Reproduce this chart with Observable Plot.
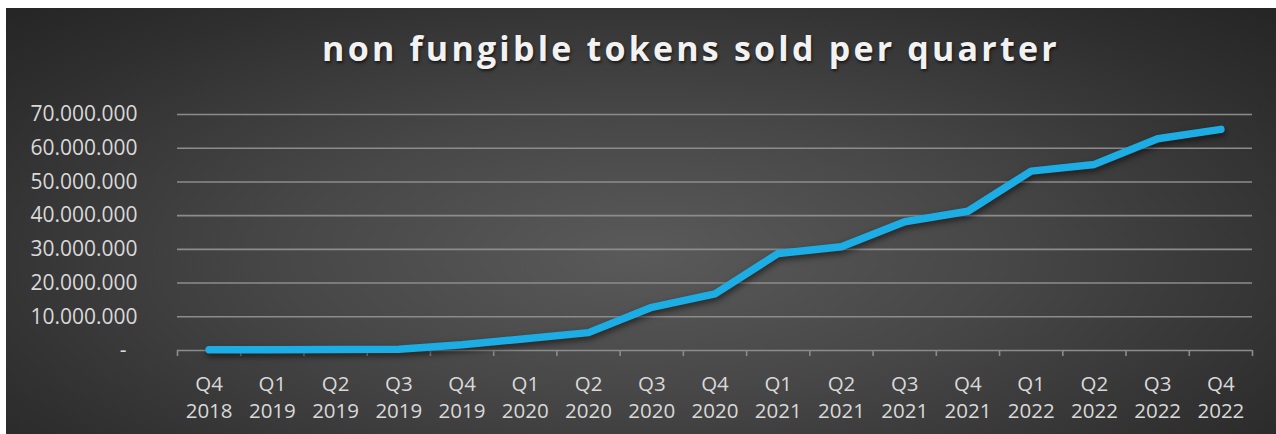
<!DOCTYPE html>
<html>
<head>
<meta charset="utf-8">
<script src="https://cdn.jsdelivr.net/npm/d3@7"></script>
<script src="https://cdn.jsdelivr.net/npm/@observablehq/plot@0.6"></script>
<style>
  html, body { margin: 0; padding: 0; background: #ffffff; width: 1276px; height: 434px; overflow: hidden; }
  #frame {
    position: absolute; left: 6px; top: 8px; width: 1270px; height: 426px;
    background: radial-gradient(ellipse farthest-corner at 50% 58%, #5a5a5a 0%, #474747 40%, #2f2f2f 80%, #252525 100%);
    overflow: hidden;
  }
  #title {
    position: absolute; left: 685px; top: 17px; transform: translateX(-50%);
    white-space: nowrap; font-family: "Open Sans", sans-serif; font-weight: 700;
    font-size: 34px; letter-spacing: 3.2px; color: #f2f2f2;
    text-shadow: 1px 2px 3px rgba(0,0,0,0.6);
  }
  #chart { position: absolute; left: 0; top: 90px; }
</style>
</head>
<body>
<div id="frame">
  <div id="title">non fungible tokens sold per quarter</div>
  <div id="chart"></div>
</div>
<script>
const quarters = ["Q4","Q1","Q2","Q3","Q4","Q1","Q2","Q3","Q4","Q1","Q2","Q3","Q4","Q1","Q2","Q3","Q4"];
const years = ["2018","2019","2019","2019","2019","2020","2020","2020","2020","2021","2021","2021","2021","2022","2022","2022","2022"];
const tokensSold = [200000, 250000, 300000, 400000, 1700000, 3500000, 5300000, 12800000, 16800000, 28800000, 30800000, 38200000, 41300000, 53200000, 55200000, 62800000, 65600000];
const yTicks = [0, 10000000, 20000000, 30000000, 40000000, 50000000, 60000000, 70000000];

const data = tokensSold.map((v, i) => ({pos: i + 0.5, quarter: quarters[i], year: years[i], value: v}));
const boundaries = d3.range(0, quarters.length + 1);
const centers = d3.range(quarters.length).map(i => i + 0.5);

const fmt = v => v === 0 ? "-\u00a0\u00a0" : d3.format(",")(v).replace(/,/g, ".");
const gray = "#8c8c8c";

const plot = Plot.plot({
  width: 1270,
  height: 336,
  marginLeft: 171,
  marginRight: 24,
  marginTop: 16,
  marginBottom: 84,
  style: {background: "transparent", color: "#d9d9d9", fontFamily: "'Open Sans', sans-serif", fontSize: "20px", overflow: "visible"},
  x: {type: "linear", domain: [0, quarters.length]},
  y: {domain: [0, 70000000]},
  marks: [
    Plot.gridY(yTicks.slice(1), {stroke: gray, strokeOpacity: 1, strokeWidth: 1.6}),
    Plot.ruleY([0], {stroke: gray, strokeWidth: 1.6}),
    Plot.axisX(boundaries, {tickSize: 6, tickFormat: () => "", stroke: gray, strokeWidth: 1.6, label: null}),
    Plot.axisX(centers, {tickSize: 0, tickPadding: 22, lineHeight: 1.3, fontSize: 20.5, fill: "#d9d9d9",
      tickFormat: d => `${quarters[Math.floor(d)]}\n${years[Math.floor(d)]}`, label: null}),
    Plot.axisY(yTicks, {tickSize: 0, tickPadding: 40, tickFormat: fmt, fontSize: 21, fill: "#d9d9d9", label: null}),
    Plot.line(data, {x: "pos", y: "value", stroke: "#1cade4", strokeWidth: 7.5, strokeLinecap: "round", strokeLinejoin: "round"})
  ]
});
document.getElementById("chart").appendChild(plot);
plot.querySelectorAll('g[aria-label="line"] path').forEach(p => {
  p.style.filter = "drop-shadow(1px 3px 3px rgba(0,0,0,0.55))";
});
</script>
</body>
</html>
